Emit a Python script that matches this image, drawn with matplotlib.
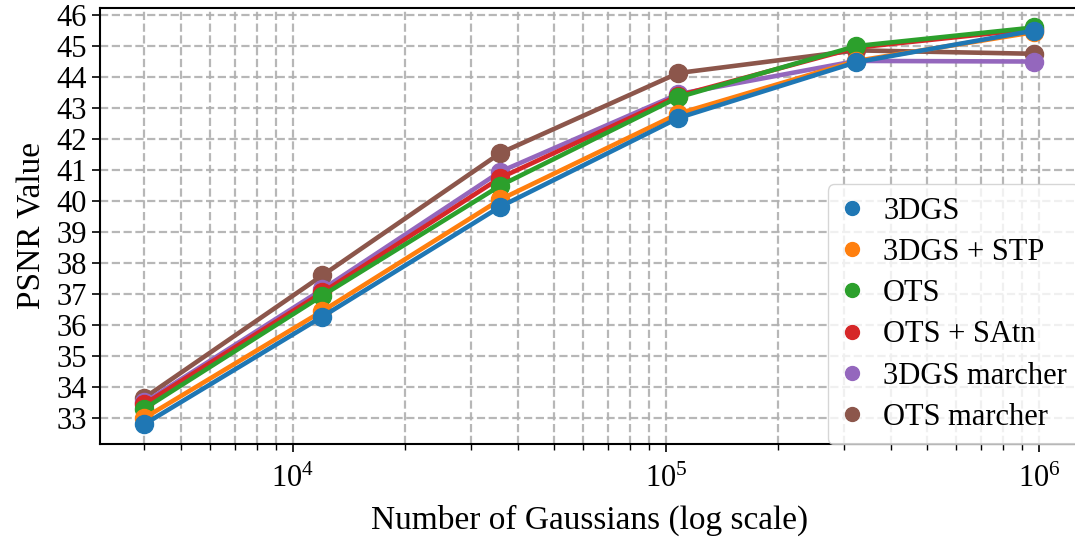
import matplotlib
matplotlib.use("Agg")
import matplotlib.pyplot as plt
from matplotlib.lines import Line2D

plt.rcParams['font.family'] = ['Liberation Serif', 'DejaVu Serif']
plt.rcParams['mathtext.fontset'] = 'stix'
plt.rcParams['font.size'] = 22

# number of Gaussians
n_gaussians = [4000, 12000, 36000, 108000, 324000, 972000]

# PSNR per method
methods = ['3DGS', '3DGS + STP', 'OTS', 'OTS + SAtn', '3DGS marcher', 'OTS marcher']
psnr_3dgs = [32.8, 36.27, 39.82, 42.68, 44.48, 45.5]
psnr_3dgs_stp = [33.0, 36.45, 40.05, 42.82, 44.52, 45.45]
psnr_ots = [33.3, 36.95, 40.5, 43.35, 45.0, 45.6]
psnr_ots_satn = [33.45, 37.05, 40.75, 43.4, 44.95, 45.55]
psnr_3dgs_marcher = [33.5, 37.15, 40.95, 43.45, 44.52, 44.5]
psnr_ots_marcher = [33.65, 37.6, 41.55, 44.13, 44.86, 44.75]

series = [psnr_3dgs, psnr_3dgs_stp, psnr_ots, psnr_ots_satn,
          psnr_3dgs_marcher, psnr_ots_marcher]
colors = ['#1f77b4', '#ff7f0e', '#2ca02c', '#d62728', '#9467bd', '#8c564b']

fig = plt.figure(figsize=(10.75, 5.45), dpi=100)
ax = fig.add_axes([100 / 1075, 1 - 444 / 545, 979 / 1075, (444 - 7.6) / 545])

# last series drawn first, so 3DGS ends up on top
for vals, c in reversed(list(zip(series, colors))):
    ax.plot(n_gaussians, vals, color=c, linewidth=3.3, marker='o', markersize=13)

ax.set_xscale('log')
ax.set_xlim(10 ** 3.483, 10 ** 6.107)
ax.set_ylim(32.16, 46.24)
ax.set_yticks(range(33, 47))

ax.grid(True, which='both', linestyle='--', linewidth=1.6, color='#b0b0b0', alpha=0.9)
ax.tick_params(axis='both', which='major', length=6, width=1.2)
ax.tick_params(axis='x', which='major', pad=9)
ax.tick_params(axis='x', which='minor', length=4, width=1.0)
for s in ax.spines.values():
    s.set_linewidth(1.5)

ax.set_xlabel('Number of Gaussians (log scale)', fontsize=24, labelpad=8)
ax.set_ylabel('PSNR Value', fontsize=24, labelpad=6)

handles = [Line2D([], [], color=c, marker='o', linestyle='none', markersize=10)
           for c in colors]
leg = ax.legend(handles, methods, loc='lower right', labelspacing=0.4,
                handlelength=0.8, handletextpad=0.6, borderpad=0.4,
                borderaxespad=0.0, framealpha=0.8, edgecolor='#cccccc',
                bbox_to_anchor=(1.0, 0.0))

fig.savefig('out.png', dpi=100)
